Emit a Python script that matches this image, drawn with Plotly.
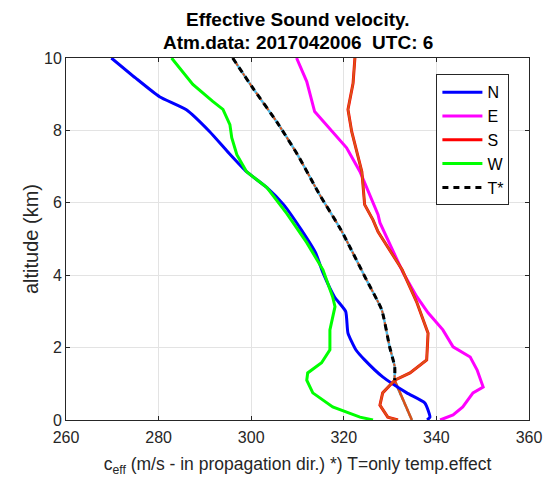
import plotly.graph_objects as go

# ---- data ----
n_c = [269.8, 275.0, 280.2, 286.0, 291.0, 295.0, 299.0, 303.4, 307.0, 310.8, 313.9, 315.5, 318.0, 320.4, 320.9, 322.6, 324.5, 328.4, 333.6, 337.5, 338.6, 338.0]
n_alt = [10.0, 9.45, 8.93, 8.57, 7.97, 7.4, 6.86, 6.42, 5.95, 5.26, 4.62, 4.07, 3.40, 3.0, 2.4, 1.94, 1.66, 1.19, 0.75, 0.47, 0.08, 0.0]

e_c = [309.8, 312.0, 313.7, 317.6, 320.6, 323.5, 325.6, 327.4, 327.8, 332.8, 335.8, 338.2, 341.4, 343.6, 347.3, 348.8, 350.1, 347.9, 345.7, 343.6, 340.8]
e_alt = [10.0, 9.35, 8.52, 7.97, 7.52, 6.86, 6.22, 5.67, 5.45, 4.07, 3.40, 2.96, 2.49, 2.02, 1.74, 1.38, 0.91, 0.75, 0.36, 0.14, 0.0]

s_c = [322.4, 322.0, 320.9, 321.7, 323.9, 324.5, 326.3, 327.4, 332.6, 335.8, 338.2, 337.9, 334.3, 331.0, 328.4, 327.8, 329.5, 331.7]
s_alt = [10.0, 9.3, 8.58, 7.97, 6.86, 5.95, 5.53, 5.2, 4.15, 3.24, 2.4, 1.66, 1.3, 1.1, 0.75, 0.41, 0.08, 0.0]

w_c = [282.8, 287.4, 291.7, 293.9, 295.4, 295.8, 296.9, 299.0, 303.4, 307.7, 312.0, 315.5, 317.6, 318.1, 317.0, 317.0, 315.2, 312.2, 312.0, 313.3, 317.6, 323.5, 326.3]
w_alt = [10.0, 9.27, 8.8, 8.58, 8.16, 7.8, 7.33, 6.86, 6.42, 5.7, 4.9, 4.15, 3.40, 3.13, 2.49, 1.94, 1.58, 1.30, 1.1, 0.75, 0.36, 0.08, 0.0]

t_c = [296.0, 300.3, 305.5, 310.0, 314.8, 319.4, 324.9, 328.2, 329.9, 331.0, 331.0, 332.5, 334.7]
t_alt = [10.0, 9.18, 8.24, 7.33, 6.22, 5.25, 3.87, 3.04, 2.02, 1.47, 1.1, 0.64, 0.0]

title_lines = ["Effective Sound velocity.", "Atm.data: 2017042006  UTC: 6"]

FONT = "Liberation Sans, Arial"

fig = go.Figure()

# underlay lines of T*
fig.add_trace(go.Scatter(x=t_c, y=t_alt, mode="lines", line=dict(color="#4DBEEE", width=2.5, shape="spline", smoothing=0.5),
                         showlegend=False, hoverinfo="skip"))
fig.add_trace(go.Scatter(x=t_c, y=t_alt, mode="lines", line=dict(color="#D95319", width=2, dash="dot", shape="spline", smoothing=0.5),
                         showlegend=False, hoverinfo="skip"))
fig.add_trace(go.Scatter(x=t_c[-3:], y=t_alt[-3:], mode="lines", line=dict(color="#D95319", width=2.5),
                         showlegend=False, hoverinfo="skip"))

fig.add_trace(go.Scatter(x=n_c, y=n_alt, mode="lines", name="N", line=dict(color="#0000FF", width=3, shape="spline", smoothing=0.5)))
fig.add_trace(go.Scatter(x=e_c, y=e_alt, mode="lines", name="E", line=dict(color="#FF00FF", width=3)))
fig.add_trace(go.Scatter(x=s_c, y=s_alt, mode="lines", name="S", line=dict(color="#FF0000", width=3)))
fig.add_trace(go.Scatter(x=s_c, y=s_alt, mode="lines", line=dict(color="#D95319", width=2),
                         showlegend=False, hoverinfo="skip"))
fig.add_trace(go.Scatter(x=w_c, y=w_alt, mode="lines", name="W", line=dict(color="#00FF00", width=3)))
n_dash = len(t_c) - 2
fig.add_trace(go.Scatter(x=t_c[:n_dash], y=t_alt[:n_dash], mode="lines", name="T*",
                         line=dict(color="#000000", width=3, dash="6px,5px", shape="spline", smoothing=0.5)))

axis_common = dict(showline=True, linecolor="#262626", linewidth=1, mirror="ticks",
                   ticks="inside", ticklen=4, tickcolor="#262626", automargin=False,
                   showgrid=True, gridcolor="#E3E3E3", gridwidth=1, zeroline=False,
                   tickfont=dict(family=FONT, size=16, color="#262626"))

fig.update_layout(
    width=544, height=483,
    margin=dict(l=66, r=15, t=58, b=63),
    paper_bgcolor="white", plot_bgcolor="white",
    xaxis=dict(range=[260, 360], dtick=20, tick0=260, ticklabelstandoff=3,
               title=dict(text="c<sub>eff</sub> (m/s - in propagation dir.) *) T=only temp.effect",
                          font=dict(family=FONT, size=17.5, color="#262626"), standoff=12),
               **axis_common),
    yaxis=dict(range=[0, 10], dtick=2, tick0=0,
               title=dict(text="altitude (km)", font=dict(family=FONT, size=20, color="#262626"),
                          standoff=0),
               **axis_common),
    legend=dict(x=0.80, y=0.955, xanchor="left", yanchor="top",
                bgcolor="white", bordercolor="#262626", borderwidth=1,
                font=dict(family=FONT, size=16, color="#000000"),
                itemwidth=40, tracegroupgap=0),
    showlegend=True,
    annotations=[
        dict(text="<b>" + title_lines[0] + "</b>", xref="paper", yref="paper", x=0.5, y=1,
             xanchor="center", yanchor="middle", yshift=39, showarrow=False,
             font=dict(family=FONT, size=19, color="#000000")),
        dict(text="<b>" + title_lines[1] + "</b>", xref="paper", yref="paper", x=0.5, y=1,
             xanchor="center", yanchor="middle", yshift=16, showarrow=False,
             font=dict(family=FONT, size=19, color="#000000")),
    ],
)

fig.write_html("out.html")
